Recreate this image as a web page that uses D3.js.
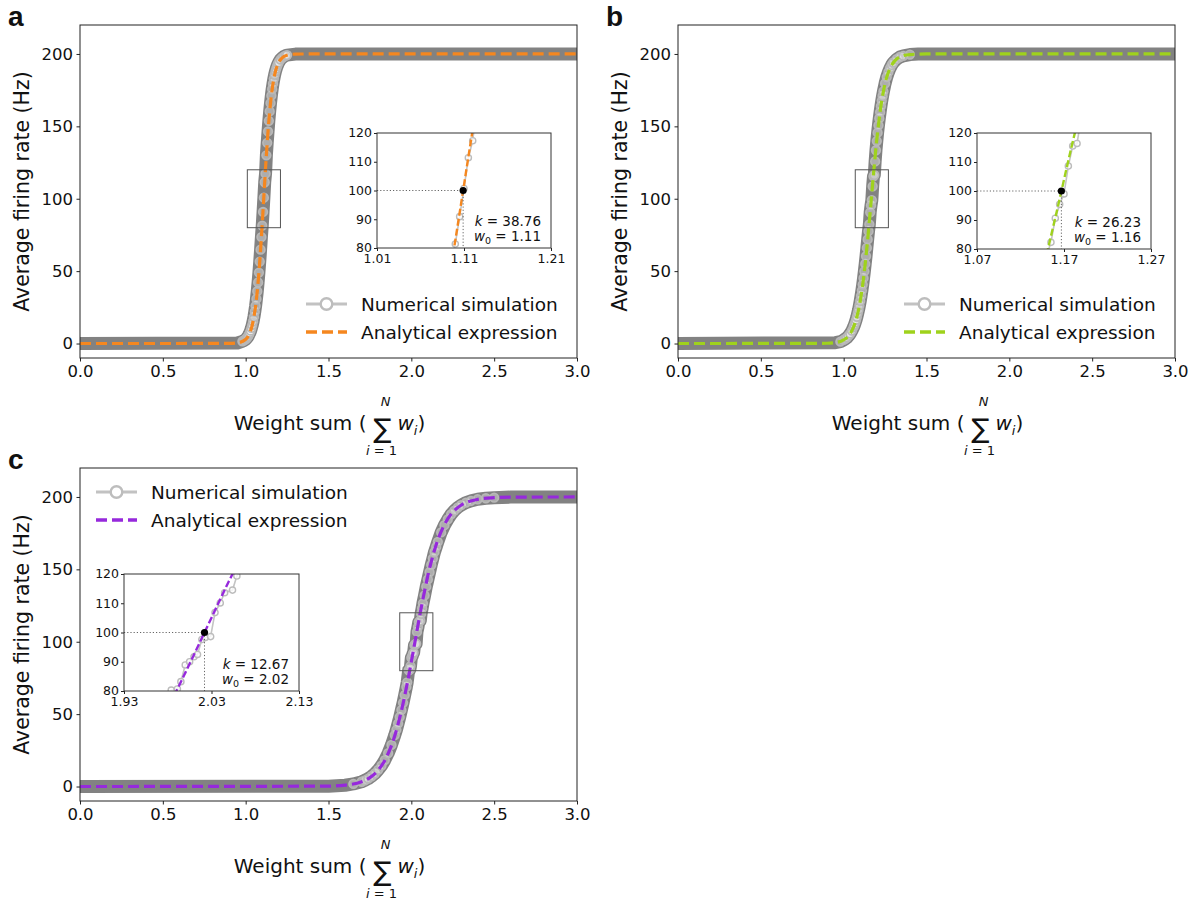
<!DOCTYPE html>
<html>
<head>
<meta charset="utf-8">
<script src="https://cdn.jsdelivr.net/npm/d3@7"></script>
<style>
body { margin: 0; background: #fff; }
text { font-family: "DejaVu Sans", sans-serif; fill: #111; }
</style>
</head>
<body>
<svg id="chart" width="1203" height="900"></svg>
<script>
"use strict"

// axis ticks shared by the three panels
var xTicks = [0, 0.5, 1.0, 1.5, 2.0, 2.5, 3.0];
var yTicks = [0, 50, 100, 150, 200];
var insetYTicks = [80, 90, 100, 110, 120];
var panelLetters = ["a", "b", "c"];
var seriesNames = ["Numerical simulation", "Analytical expression"];
var anaColors = ["#f5871f", "#9fd21c", "#9629dc"];

// numerical simulation
var simAX = [0, 0.95, 0.98, 0.99, 1.000, 1.005, 1.010, 1.015, 1.020, 1.025, 1.030, 1.035, 1.040, 1.045, 1.050, 1.055, 1.060, 1.065, 1.070, 1.075, 1.080, 1.085, 1.090, 1.095, 1.100, 1.105, 1.110, 1.115, 1.120, 1.125, 1.130, 1.135, 1.140, 1.145, 1.150, 1.155, 1.160, 1.165, 1.170, 1.175, 1.180, 1.185, 1.190, 1.195, 1.200, 1.210, 1.220, 1.230, 1.240, 1.250, 1.300, 3.0];
var simAY = [0, 0.4, 1.5, 2.1, 2.9, 3.5, 4.2, 5.1, 6.2, 7.4, 8.9, 10.8, 12.9, 15.4, 18.4, 22.0, 26.0, 30.8, 36.1, 42.2, 49.0, 56.6, 64.8, 73.5, 81.4, 90.9, 100.7, 111.4, 117.3, 130.0, 138.6, 146.5, 153.8, 160.3, 166.1, 171.2, 175.7, 179.5, 182.8, 185.6, 188.0, 190.0, 191.7, 193.1, 194.3, 196.1, 197.3, 198.2, 198.8, 199.2, 199.9, 200];
var simBX = [0, 0.95, 0.98, 1.00, 1.01, 1.02, 1.03, 1.04, 1.05, 1.06, 1.065, 1.070, 1.075, 1.080, 1.085, 1.090, 1.095, 1.100, 1.105, 1.110, 1.115, 1.120, 1.125, 1.130, 1.135, 1.140, 1.145, 1.150, 1.155, 1.160, 1.165, 1.170, 1.175, 1.180, 1.185, 1.190, 1.195, 1.200, 1.205, 1.210, 1.215, 1.220, 1.225, 1.230, 1.235, 1.240, 1.250, 1.260, 1.270, 1.280, 1.290, 1.300, 1.320, 1.340, 1.360, 1.400, 1.450, 3.0];
var simBY = [0, 0.6, 1.3, 2.5, 3.2, 4.1, 5.4, 6.9, 8.9, 11.4, 12.9, 14.6, 16.4, 18.5, 20.9, 23.4, 26.3, 29.4, 32.9, 36.6, 40.7, 45.1, 49.9, 55.0, 60.3, 66.0, 71.9, 77.6, 82.3, 90.6, 95.4, 99.0, 108.6, 115.5, 116.4, 125.8, 133.5, 139.8, 145.6, 150.7, 155.5, 159.8, 163.9, 167.6, 171.0, 174.2, 179.6, 184.0, 187.4, 190.2, 192.4, 194.1, 196.4, 197.9, 198.7, 199.6, 199.9, 200];
var simCX = [0, 1.50, 1.60, 1.65, 1.70, 1.72, 1.74, 1.76, 1.78, 1.80, 1.82, 1.84, 1.86, 1.88, 1.90, 1.91, 1.92, 1.93, 1.94, 1.95, 1.96, 1.97, 1.975, 1.984, 1.991, 1.995, 2.000, 2.005, 2.010, 2.014, 2.019, 2.023, 2.029, 2.034, 2.040, 2.045, 2.054, 2.059, 2.065, 2.070, 2.080, 2.090, 2.100, 2.110, 2.120, 2.130, 2.140, 2.150, 2.160, 2.180, 2.200, 2.220, 2.240, 2.260, 2.280, 2.300, 2.330, 2.360, 2.400, 2.450, 2.500, 2.600, 3.0];
var simCY = [0, 0.2, 0.9, 1.8, 3.3, 4.3, 5.5, 7.1, 9.0, 11.5, 14.5, 18.3, 23.0, 28.7, 35.5, 39.2, 43.5, 48.0, 52.8, 57.8, 63.2, 68.8, 72.0, 80.3, 80.7, 83.2, 88.9, 90.0, 91.7, 92.5, 97.6, 98.3, 98.6, 106.8, 110.1, 113.6, 114.5, 119.3, 123.0, 126.5, 132.0, 138.0, 143.0, 148.0, 153.0, 157.5, 162.0, 165.5, 169.0, 175.5, 180.5, 184.5, 188.0, 190.6, 192.7, 194.3, 196.1, 197.3, 198.4, 199.1, 199.5, 199.9, 200];

// analytical expression
var anaAX = [0, 0.899, 0.949, 0.999, 1.019, 1.039, 1.059, 1.069, 1.079, 1.089, 1.099, 1.109, 1.119, 1.129, 1.139, 1.149, 1.159, 1.179, 1.199, 1.219, 1.249, 1.299, 1.399, 3.0];
var anaAY = [0, 0.06, 0.41, 2.77, 5.93, 12.44, 25.2, 35.0, 47.6, 63.1, 80.8, 100, 119.2, 136.9, 152.4, 165.0, 174.8, 187.6, 194.1, 197.2, 199.1, 199.9, 200, 200];
var anaBX = [0, 0.90, 0.95, 1.00, 1.03, 1.06, 1.08, 1.10, 1.12, 1.14, 1.16, 1.18, 1.20, 1.22, 1.24, 1.26, 1.28, 1.31, 1.35, 1.40, 1.50, 3.0];
var anaBY = [0, 0.18, 0.67, 2.47, 5.35, 11.4, 18.5, 29.4, 45.1, 66.0, 90.8, 116.9, 140.8, 160.1, 174.3, 184.0, 190.2, 195.4, 198.4, 199.6, 200, 200];
var anaCX = [0, 1.50, 1.60, 1.70, 1.75, 1.80, 1.85, 1.90, 1.95, 1.975, 2.000, 2.025, 2.050, 2.075, 2.100, 2.150, 2.200, 2.250, 2.300, 2.400, 2.500, 2.600, 3.0];
var anaCY = [0, 0.27, 0.95, 3.33, 6.17, 11.3, 20.3, 35.1, 57.3, 71.1, 86.2, 101.9, 117.6, 132.3, 145.8, 167.0, 181.0, 189.5, 194.3, 198.35, 199.5, 199.87, 200];

// fit results shown in the insets
var fitK = ["38.76", "26.23", "12.67"];
var fitW0Label = ["1.11", "1.16", "2.02"];
var fitW0 = [1.109, 1.167, 2.022];
var insetX0 = [1.01, 1.07, 1.93];
var insetXTickLabels = [["1.01", "1.11", "1.21"], ["1.07", "1.17", "1.27"], ["1.93", "2.03", "2.13"]];

var simXs = [simAX, simBX, simCX], simYs = [simAY, simBY, simCY];
var anaXs = [anaAX, anaBX, anaCX], anaYs = [anaAY, anaBY, anaCY];

// layout of the three panels (pixels)
var panels = [
    {left: 80, right: 577, top: 25, bottom: 358, letterX: 8,
     inset: {left: 377, right: 551, top: 133, bottom: 248}, legendLowerRight: true},
    {left: 678, right: 1175, top: 25, bottom: 358, letterX: 606,
     inset: {left: 977, right: 1151, top: 133, bottom: 249}, legendLowerRight: true},
    {left: 80, right: 577, top: 468, bottom: 801, letterX: 8,
     inset: {left: 124, right: 299, top: 574, bottom: 691}, legendLowerRight: false}
];
var yDomain = [-10, 220];

var svg = d3.select("#chart");
var defs = svg.append("defs");

function styleAxis(sel, size) {
    sel.attr("font-size", size).attr("font-family", "DejaVu Sans");
    sel.select(".domain").remove();
    sel.selectAll("line").attr("stroke", "#222");
    sel.selectAll("text").attr("fill", "#111");
}

function drawXLabel(g, cx, by) {
    var t = g.append("g").attr("transform", "translate(" + cx + "," + by + ")");
    t.append("text").attr("x", 38).attr("text-anchor", "end").attr("font-size", 20).text("Weight sum (");
    t.append("text").attr("x", 54).attr("y", 8).attr("text-anchor", "middle").attr("font-size", 27).text("\u2211");
    t.append("text").attr("x", 57).attr("y", -24).attr("text-anchor", "middle")
        .attr("font-size", 13).attr("font-style", "italic").text("N");
    var low = t.append("text").attr("x", 53).attr("y", 25).attr("text-anchor", "middle").attr("font-size", 13);
    low.append("tspan").attr("font-style", "italic").text("i");
    low.append("tspan").text(" = 1");
    var w = t.append("text").attr("x", 69).attr("font-size", 20);
    w.append("tspan").attr("font-style", "italic").text("w");
    w.append("tspan").attr("font-style", "italic").attr("font-size", 13).attr("dy", 5).text("i");
    w.append("tspan").attr("dy", -5).text(")");
}

function drawPanel(p, i) {
    var x = d3.scaleLinear().domain([xTicks[0], xTicks[xTicks.length - 1]]).range([p.left, p.right]);
    var y = d3.scaleLinear().domain(yDomain).range([p.bottom, p.top]);
    var color = anaColors[i];
    var sim = d3.zip(simXs[i], simYs[i]);
    var ana = d3.zip(anaXs[i], anaYs[i]);
    var g = svg.append("g");

    var clipId = "clip-main-" + i;
    defs.append("clipPath").attr("id", clipId).append("rect")
        .attr("x", p.left).attr("y", p.top).attr("width", p.right - p.left).attr("height", p.bottom - p.top);
    var plot = g.append("g").attr("clip-path", "url(#" + clipId + ")");

    var simLine = d3.line().x(function(d) { return x(d[0]); }).y(function(d) { return y(d[1]); });
    var anaLine = d3.line().curve(d3.curveMonotoneX).x(function(d) { return x(d[0]); }).y(function(d) { return y(d[1]); });

    // simulation: dense markers merge into a thick grey band
    plot.append("path").datum(sim).attr("d", simLine)
        .attr("fill", "none").attr("stroke", "#828282").attr("stroke-width", 13)
        .attr("stroke-linejoin", "round");
    plot.selectAll("circle.sim")
        .data(sim.filter(function(d) { return d[1] > 1 && d[1] < 199.8; }))
        .join("circle")
        .attr("cx", function(d) { return x(d[0]); })
        .attr("cy", function(d) { return y(d[1]); })
        .attr("r", 4.3)
        .attr("fill", "#fff").attr("fill-opacity", 0.35)
        .attr("stroke", "#b8b8b8").attr("stroke-width", 1.7);
    plot.append("path").datum(ana).attr("d", anaLine)
        .attr("fill", "none").attr("stroke", color).attr("stroke-width", 3.2)
        .attr("stroke-dasharray", "11,5");

    // zoom box matching the inset
    plot.append("rect")
        .attr("x", x(insetX0[i])).attr("y", y(insetYTicks[insetYTicks.length - 1]))
        .attr("width", x(insetX0[i] + 0.2) - x(insetX0[i]))
        .attr("height", y(insetYTicks[0]) - y(insetYTicks[insetYTicks.length - 1]))
        .attr("fill", "none").attr("stroke", "#555").attr("stroke-width", 1);

    // axes
    g.append("g").attr("transform", "translate(0," + p.bottom + ")")
        .call(d3.axisBottom(x).tickValues(xTicks).tickFormat(d3.format(".1f"))
            .tickSize(3.5).tickPadding(3.5).tickSizeOuter(0))
        .call(styleAxis, 16.5);
    g.append("g").attr("transform", "translate(" + p.left + ",0)")
        .call(d3.axisLeft(y).tickValues(yTicks).tickSize(3.5).tickPadding(3.5).tickSizeOuter(0))
        .call(styleAxis, 16.5);
    g.append("rect").attr("x", p.left).attr("y", p.top)
        .attr("width", p.right - p.left).attr("height", p.bottom - p.top)
        .attr("fill", "none").attr("stroke", "#222").attr("stroke-width", 1);

    // labels
    g.append("text")
        .attr("transform", "translate(" + (p.left - 51) + "," + ((p.top + p.bottom) / 2) + ") rotate(-90)")
        .attr("text-anchor", "middle").attr("font-size", 20.5).text("Average firing rate (Hz)");
    drawXLabel(g, (p.left + p.right) / 2, p.bottom + 72);
    g.append("text").attr("x", p.letterX).attr("y", p.top + 1)
        .attr("font-weight", "bold").attr("font-size", 28)
        .style("font-family", "'Liberation Sans', Arial, sans-serif")
        .text(panelLetters[i]);

    // legend
    var lx = p.legendLowerRight ? p.right - 271 : p.left + 16;
    var ly = p.legendLowerRight ? p.bottom - 54 : p.top + 24;
    var lg = g.append("g");
    lg.append("line").attr("x1", lx).attr("x2", lx + 41).attr("y1", ly).attr("y2", ly)
        .attr("stroke", "#c2c2c2").attr("stroke-width", 3);
    lg.append("circle").attr("cx", lx + 20.5).attr("cy", ly).attr("r", 5.8)
        .attr("fill", "#fff").attr("stroke", "#bdbdbd").attr("stroke-width", 2.4);
    lg.append("line").attr("x1", lx).attr("x2", lx + 41).attr("y1", ly + 28).attr("y2", ly + 28)
        .attr("stroke", color).attr("stroke-width", 3.4).attr("stroke-dasharray", "11,5");
    lg.selectAll("text.leg").data(seriesNames).join("text")
        .attr("x", lx + 55).attr("y", function(d, j) { return ly + j * 28; })
        .attr("dominant-baseline", "central").attr("font-size", 18.5).text(function(d) { return d; });

    drawInset(p.inset, i, sim, ana, color);
}

function drawInset(b, i, sim, ana, color) {
    var x = d3.scaleLinear().domain([insetX0[i], insetX0[i] + 0.2]).range([b.left, b.right]);
    var y = d3.scaleLinear().domain([insetYTicks[0], insetYTicks[insetYTicks.length - 1]]).range([b.bottom, b.top]);
    var g = svg.append("g");
    g.append("rect").attr("x", b.left).attr("y", b.top)
        .attr("width", b.right - b.left).attr("height", b.bottom - b.top).attr("fill", "#fff");

    var clipId = "clip-inset-" + i;
    defs.append("clipPath").attr("id", clipId).append("rect")
        .attr("x", b.left).attr("y", b.top).attr("width", b.right - b.left).attr("height", b.bottom - b.top);
    var plot = g.append("g").attr("clip-path", "url(#" + clipId + ")");

    var simLine = d3.line().x(function(d) { return x(d[0]); }).y(function(d) { return y(d[1]); });
    var anaLine = d3.line().curve(d3.curveMonotoneX).x(function(d) { return x(d[0]); }).y(function(d) { return y(d[1]); });

    plot.append("path").datum(sim).attr("d", simLine)
        .attr("fill", "none").attr("stroke", "#c4c4c4").attr("stroke-width", 1.6);
    plot.selectAll("circle.sim").data(sim).join("circle")
        .attr("cx", function(d) { return x(d[0]); })
        .attr("cy", function(d) { return y(d[1]); })
        .attr("r", 3.1)
        .attr("fill", "#fff").attr("fill-opacity", 0.8)
        .attr("stroke", "#bcbcbc").attr("stroke-width", 1.4);
    plot.append("path").datum(ana).attr("d", anaLine)
        .attr("fill", "none").attr("stroke", color).attr("stroke-width", 2.4)
        .attr("stroke-dasharray", "7,3");

    // guides to the fitted midpoint
    plot.append("line").attr("x1", b.left).attr("x2", x(fitW0[i]))
        .attr("y1", y(100)).attr("y2", y(100))
        .attr("stroke", "#666").attr("stroke-width", 1).attr("stroke-dasharray", "1.2,2");
    plot.append("line").attr("x1", x(fitW0[i])).attr("x2", x(fitW0[i]))
        .attr("y1", y(100)).attr("y2", b.bottom)
        .attr("stroke", "#666").attr("stroke-width", 1).attr("stroke-dasharray", "1.2,2");
    plot.append("circle").attr("cx", x(fitW0[i])).attr("cy", y(100)).attr("r", 3.6).attr("fill", "#000");

    // axes
    var labels = insetXTickLabels[i];
    g.append("g").attr("transform", "translate(0," + b.bottom + ")")
        .call(d3.axisBottom(x).tickValues([insetX0[i], insetX0[i] + 0.1, insetX0[i] + 0.2])
            .tickFormat(function(d, j) { return labels[j]; })
            .tickSize(3).tickPadding(3).tickSizeOuter(0))
        .call(styleAxis, 12.5);
    g.append("g").attr("transform", "translate(" + b.left + ",0)")
        .call(d3.axisLeft(y).tickValues(insetYTicks).tickSize(3).tickPadding(2).tickSizeOuter(0))
        .call(styleAxis, 12.5)
        .call(function(s) { s.selectAll("text").attr("dy", "0.3em"); });
    g.append("rect").attr("x", b.left).attr("y", b.top)
        .attr("width", b.right - b.left).attr("height", b.bottom - b.top)
        .attr("fill", "none").attr("stroke", "#333").attr("stroke-width", 1);

    // fit parameters
    var tx = b.right - 10;
    var k = g.append("text").attr("x", tx).attr("y", b.bottom - 22).attr("text-anchor", "end").attr("font-size", 13.5);
    k.append("tspan").attr("font-style", "italic").text("k");
    k.append("tspan").text(" = " + fitK[i]);
    var w = g.append("text").attr("x", tx).attr("y", b.bottom - 7).attr("text-anchor", "end").attr("font-size", 13.5);
    w.append("tspan").attr("font-style", "italic").text("w");
    w.append("tspan").attr("font-size", 9.5).attr("dy", 3).text("0");
    w.append("tspan").attr("dy", -3).text(" = " + fitW0Label[i]);
}

panels.forEach(drawPanel);
</script>
</body>
</html>
